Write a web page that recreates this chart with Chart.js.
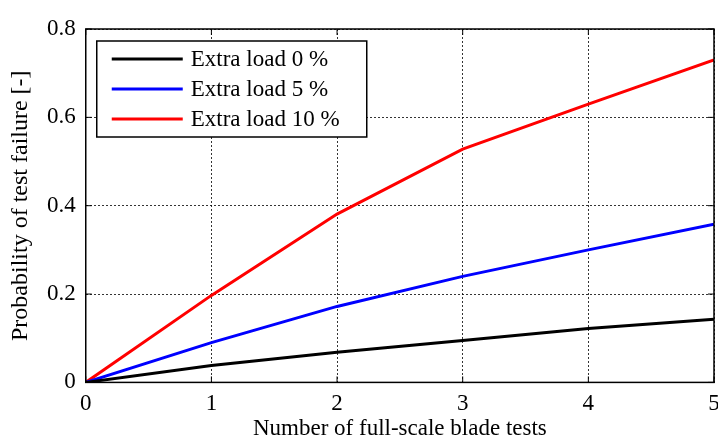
<!DOCTYPE html>
<html>
<head>
<meta charset="utf-8">
<script src="https://cdn.jsdelivr.net/npm/chart.js@4"></script>
<style>
    html, body { margin: 0; padding: 0; background: #fff; }
    #wrap { width: 718px; height: 443px; }
</style>
</head>
<body>
<div id="wrap"><canvas id="failure-chart" width="718" height="443"></canvas></div>
<script>
// --- Data ---
const testCounts = [0, 1, 2, 3, 4, 5];
const load0 = [0, 0.038, 0.068, 0.095, 0.122, 0.143];
const load5 = [0, 0.090, 0.172, 0.240, 0.300, 0.358];
const load10 = [0, 0.197, 0.381, 0.528, 0.630, 0.730];
const seriesLabels = ['Extra load 0 %', 'Extra load 5 %', 'Extra load 10 %'];
const seriesColors = ['#000000', '#0000ff', '#ff0000'];
const yTicks = [0, 0.2, 0.4, 0.6, 0.8];

const FONT = '"Liberation Serif", "Times New Roman", serif';

function toPoints(values) {
    return values.map((v, i) => ({ x: testCounts[i], y: v }));
}

// draws the box around the plot and a matlab style legend inside it
const frameAndLegend = {
    id: 'frameAndLegend',
    afterDatasetsDraw(chart) {
        const { ctx, chartArea: a } = chart;
        ctx.save();
        ctx.strokeStyle = '#000';
        ctx.lineWidth = 1.5;
        ctx.strokeRect(a.left, a.top, a.right - a.left, a.bottom - a.top);

        // small inward ticks on all four edges
        ctx.lineWidth = 1;
        const xs = chart.scales.x, ys = chart.scales.y;
        testCounts.forEach(t => {
            const px = xs.getPixelForValue(t);
            ctx.beginPath();
            ctx.moveTo(px, a.top); ctx.lineTo(px, a.top + 6);
            ctx.moveTo(px, a.bottom); ctx.lineTo(px, a.bottom - 6);
            ctx.stroke();
        });
        yTicks.forEach(t => {
            const py = ys.getPixelForValue(t);
            ctx.beginPath();
            ctx.moveTo(a.left, py); ctx.lineTo(a.left + 6, py);
            ctx.moveTo(a.right, py); ctx.lineTo(a.right - 6, py);
            ctx.stroke();
        });

        // legend box
        const bx = a.left + 11, by = a.top + 12, bw = 270, bh = 96;
        ctx.fillStyle = '#fff';
        ctx.fillRect(bx, by, bw, bh);
        ctx.strokeStyle = '#000';
        ctx.lineWidth = 1.5;
        ctx.strokeRect(bx, by, bw, bh);

        ctx.font = '23px ' + FONT;
        ctx.textBaseline = 'middle';
        chart.data.datasets.forEach((ds, i) => {
            const rowY = by + 18 + i * 30;
            ctx.strokeStyle = ds.borderColor;
            ctx.lineWidth = 3;
            ctx.beginPath();
            ctx.moveTo(bx + 15, rowY);
            ctx.lineTo(bx + 86, rowY);
            ctx.stroke();
            ctx.fillStyle = '#000';
            ctx.fillText(ds.label, bx + 94, rowY + 1);
        });
        ctx.restore();
    }
};

const ctx = document.getElementById('failure-chart').getContext('2d');
new Chart(ctx, {
    type: 'line',
    data: {
        datasets: [load0, load5, load10].map((vals, i) => ({
            label: seriesLabels[i],
            data: toPoints(vals),
            borderColor: seriesColors[i],
            backgroundColor: seriesColors[i],
            borderWidth: 3,
            pointRadius: 0,
            tension: 0,
            fill: false
        }))
    },
    options: {
        responsive: false,
        animation: false,
        layout: { padding: { top: 29, right: 0, left: 9, bottom: 0 } },
        plugins: {
            legend: { display: false },
            tooltip: { enabled: false }
        },
        scales: {
            x: {
                type: 'linear',
                min: 0,
                max: 5,
                afterFit(scale) {
                    // let the plot run nearly to the right edge like the original
                    scale.paddingRight = 4;
                },
                ticks: {
                    stepSize: 1,
                    color: '#000',
                    font: { family: FONT, size: 23 },
                    padding: 8
                },
                grid: {
                    color: '#000',
                    lineWidth: 0.8,
                    drawTicks: false
                },
                border: { dash: [2, 2], display: true, color: '#000' },
                title: {
                    display: true,
                    text: 'Number of full-scale blade tests',
                    color: '#000',
                    font: { family: FONT, size: 23, lineHeight: 1 },
                    padding: { top: -9, bottom: 3 }
                }
            },
            y: {
                min: 0,
                max: 0.8,
                afterBuildTicks(scale) {
                    scale.ticks = yTicks.map(v => ({ value: v }));
                },
                ticks: {
                    color: '#000',
                    font: { family: FONT, size: 23 },
                    padding: 10,
                    callback: v => String(v)
                },
                grid: {
                    color: '#000',
                    lineWidth: 0.8,
                    drawTicks: false
                },
                border: { dash: [2, 2], display: true, color: '#000' },
                title: {
                    display: true,
                    text: 'Probability of test failure [-]',
                    color: '#000',
                    font: { family: FONT, size: 24, lineHeight: 1 },
                    padding: { top: 0, bottom: 4 }
                }
            }
        }
    },
    plugins: [frameAndLegend]
});
</script>
</body>
</html>
